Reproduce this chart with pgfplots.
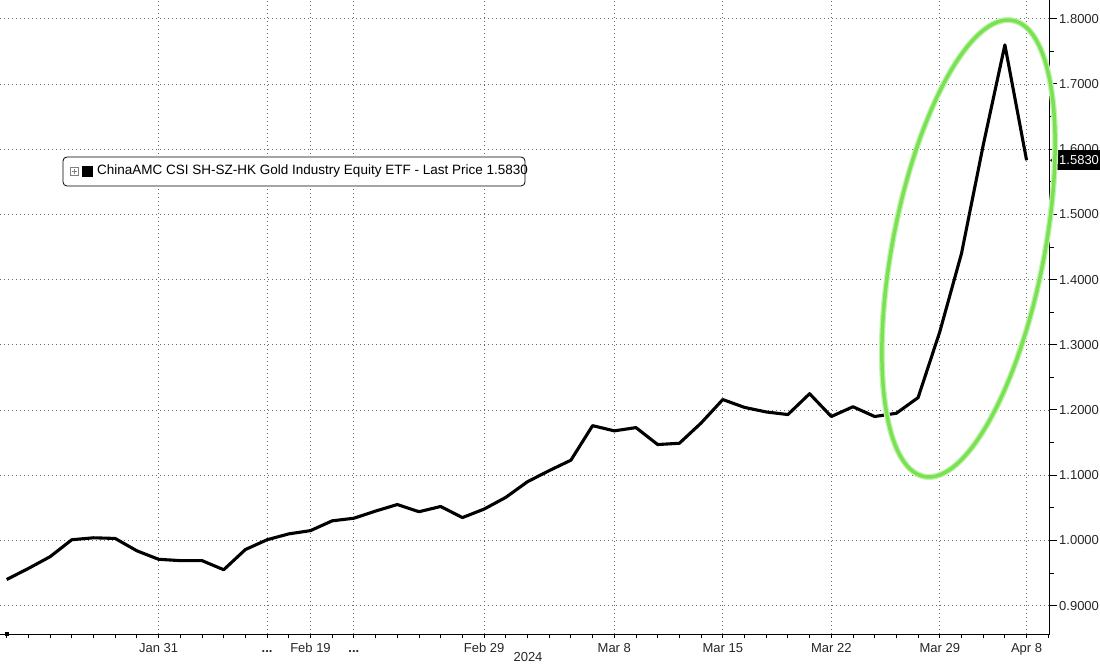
\documentclass[border=0pt]{standalone}
\usepackage{fontspec}
\setmainfont{Liberation Sans}
\usepackage{pgfplots}
\pgfplotsset{compat=1.18}
\definecolor{ellg}{RGB}{122,226,82}
\definecolor{gridc}{RGB}{105,105,105}
\newcommand{\dd}{\textbf{...}}
\begin{document}
\begin{tikzpicture}[x=1pt,y=1pt]
\path[use as bounding box] (0,0) rectangle (1100,664);
\begin{axis}[
  at={(0pt,30pt)}, anchor=south west,
  width=1050pt, height=634pt, scale only axis,
  xmin=-0.3088, xmax=48.078, ymin=0.85644, ymax=1.82883,
  axis x line*=bottom, axis y line*=right,
  axis line style={line width=1pt, black},
  tick align=outside,
  major tick length=7pt, minor tick length=4pt,
  xtick={7,12,14,16,22,28,33,38,43,47},
  xticklabels={Jan 31,\dd,Feb 19,\dd,Feb 29,Mar 8,Mar 15,Mar 22,Mar 29,Apr 8},
  minor xtick={0,...,48},
  major x tick style={draw=none},
  minor x tick style={line width=0.8pt, black},
  ytick={0.9,1.0,1.1,1.2,1.3,1.4,1.5,1.6,1.7,1.8},
  yticklabels={0.9000,1.0000,1.1000,1.2000,1.3000,1.4000,1.5000,1.6000,1.7000,1.8000},
  minor ytick={0.95,1.05,1.15,1.25,1.35,1.45,1.55,1.65,1.75},
  major y tick style={line width=1pt, black},
  minor y tick style={line width=0.8pt, black},
  /pgf/number format/assume math mode=true,
  tick label style={font=\fontsize{13}{15}\selectfont, text=black!85},
  xticklabel style={anchor=north, inner sep=0pt, yshift=-1pt, text height=10pt, text depth=3pt},
  yticklabel style={anchor=west, inner sep=0pt, xshift=2pt},
  grid=major,
  major grid style={gridc, line width=0.8pt, dash pattern=on 1pt off 3pt},
]
\addplot[black, line width=3.1pt, line join=round] table {
x y
0 0.940
1 0.957
2 0.975
3 1.001
4 1.004
5 1.003
6 0.984
7 0.971
8 0.969
9 0.969
10 0.955
11 0.986
12 1.001
13 1.010
14 1.015
15 1.030
16 1.034
17 1.045
18 1.055
19 1.044
20 1.052
21 1.035
22 1.048
23 1.066
24 1.090
25 1.107
26 1.123
27 1.176
28 1.168
29 1.173
30 1.147
31 1.149
32 1.180
33 1.216
34 1.204
35 1.197
36 1.193
37 1.225
38 1.190
39 1.205
40 1.190
41 1.195
42 1.219
43 1.320
44 1.440
45 1.606
46 1.760
47 1.583
};
\end{axis}
\node[font=\fontsize{13}{15}\selectfont, text=black!85] at (528,7) {2024};
% bottom-left marker
\fill (4.5,28.5) rectangle (8.5,32);
% legend
\draw[black, line width=0.8pt, fill=white, rounded corners=4pt] (63,478) rectangle (525,507);
\draw[gray, line width=0.6pt] (70,488.5) rectangle (78,496.5);
\draw[gray, line width=0.6pt] (71.5,492.5) -- (76.5,492.5) (74,490) -- (74,495);
\fill[black] (82,487) rectangle (93,498);
\node[anchor=west, inner sep=0pt, font=\fontsize{13.5}{15}\selectfont] at (97,492.5) {ChinaAMC CSI SH-SZ-HK Gold Industry Equity ETF - Last Price 1.5830};
% last price tag
\fill[black] (1050,503.7) -- (1059,511) -- (1059,496.4) -- cycle;
\node[fill=black, text=white, anchor=west, inner xsep=2pt, inner ysep=3pt, minimum height=20pt, font=\fontsize{13}{15}\selectfont] at (1057,503.7) {1.5830};
% ellipse
\draw[ellg!45, line width=6pt, rotate around={-11:(968.5,415.5)}] (968.5,415.5) ellipse [x radius=75.8pt, y radius=232.3pt];
\draw[ellg, line width=3.5pt, rotate around={-11:(968.5,415.5)}] (968.5,415.5) ellipse [x radius=75.8pt, y radius=232.3pt];
\end{tikzpicture}
\end{document}
